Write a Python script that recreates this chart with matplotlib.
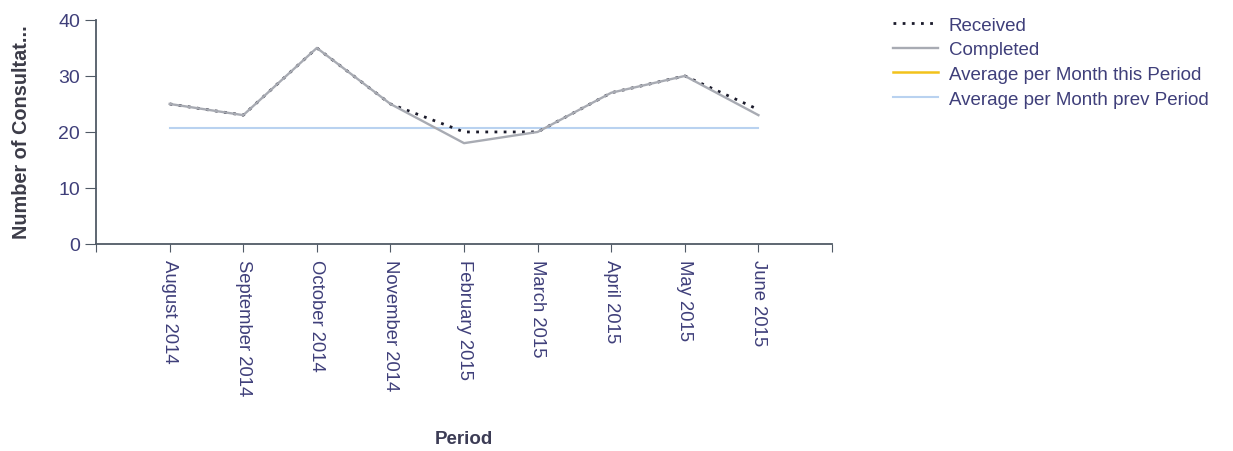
import numpy as np
import matplotlib
matplotlib.use('Agg')
from matplotlib import pyplot as plt

# data
periods = ['August 2014', 'September 2014', 'October 2014', 'November 2014',
           'February 2015', 'March 2015', 'April 2015', 'May 2015', 'June 2015']
received = [25, 23, 35, 25, 20, 20, 27, 30, 24]
completed = [25, 23, 35, 25, 18, 20, 27, 30, 23]
avg_this_period = []          # not visible in the chart
avg_prev_period = [20.7] * len(periods)

plt.rcParams['font.family'] = ['Liberation Sans', 'DejaVu Sans']
text_col = '#3f3f7a'
axis_col = '#505a66'

fig = plt.figure(figsize=(12.33, 4.52), dpi=100)
ax = fig.add_axes([0.0779, 0.458, 0.5969, 0.4957])

x = np.arange(len(periods))
h_prev, = ax.plot(x, avg_prev_period, color='#b9d2f0', lw=1.5)
h_this, = ax.plot(x[:len(avg_this_period)], avg_this_period, color='#f2c21b', lw=1.8)
# received drawn first, completed covers it where they agree
h_rec, = ax.plot(x, received, color='#1a1a2a', lw=2.0, linestyle=(0, (1, 2.3)))
h_comp, = ax.plot(x, completed, color='#a8abb3', lw=1.7)

ax.set_xlim(-1, len(periods))
ax.set_ylim(0, 40)
ax.set_yticks([0, 10, 20, 30, 40])
ax.set_xticks(np.arange(-1, len(periods) + 1))
ax.set_xticklabels([''] + periods + [''], rotation=270, fontsize=13.3, color=text_col)
ax.tick_params(axis='y', labelsize=14, labelcolor=text_col, length=8, color=axis_col)
ax.tick_params(axis='x', length=6, color=axis_col, pad=5)

for s in ['top', 'right']:
    ax.spines[s].set_visible(False)
for s in ['left', 'bottom']:
    ax.spines[s].set_color(axis_col)
    ax.spines[s].set_linewidth(1.3)

ax.set_ylabel('Number of Consultat...', fontsize=14.3, fontweight='bold', color='#3c3c48')
ax.yaxis.set_label_coords(-0.089, 0.505)
ax.set_xlabel('Period', fontsize=13.5, fontweight='bold', color='#3c3c55')
ax.xaxis.set_label_coords(0.5, -0.83)

fig.legend([h_rec, h_comp, h_this, h_prev],
           ['Received', 'Completed', 'Average per Month this Period', 'Average per Month prev Period'],
           loc='upper left', bbox_to_anchor=(0.717, 0.982), frameon=False,
           fontsize=13.5, labelcolor=text_col, handlelength=2.4, handletextpad=0.55,
           labelspacing=0.4, borderpad=0)

fig.savefig('out.png', dpi=100)
